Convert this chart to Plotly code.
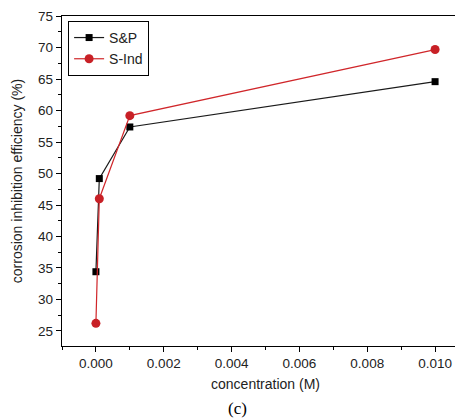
import plotly.graph_objects as go

concentration = [0.0, 0.0001, 0.001, 0.01]
sp_efficiency = [34.4, 49.2, 57.4, 64.6]
sind_efficiency = [26.2, 46.0, 59.2, 69.7]
x_ticks = [0.0, 0.002, 0.004, 0.006, 0.008, 0.010]
x_tick_labels = ['0.000', '0.002', '0.004', '0.006', '0.008', '0.010']
y_ticks = [25, 30, 35, 40, 45, 50, 55, 60, 65, 70, 75]

font = 'Liberation Sans, Arial, sans-serif'

fig = go.Figure()
fig.add_trace(go.Scatter(
    x=concentration, y=sp_efficiency, name='S&P', mode='lines+markers',
    line=dict(color='#1a1a1a', width=1.2),
    marker=dict(symbol='square', size=7, color='black'),
))
fig.add_trace(go.Scatter(
    x=concentration, y=sind_efficiency, name='S-Ind', mode='lines+markers',
    line=dict(color='#d0262a', width=1.2),
    marker=dict(symbol='circle', size=9, color='#c82026'),
))

axis_common = dict(
    showline=True, linecolor='black', linewidth=1.3, mirror=True,
    ticks='outside', ticklen=5, tickwidth=1.2, tickcolor='black',
    showgrid=False, zeroline=False, automargin=False,
    ticklabeloverflow='allow',
    tickfont=dict(family=font, size=13.5, color='#222'),
)

fig.update_layout(
    width=463, height=418,
    margin=dict(l=54, r=2, t=8, b=80),
    plot_bgcolor='white', paper_bgcolor='white',
    font=dict(family=font, color='#222'),
    xaxis=dict(
        range=[-0.001, 0.011], tickvals=x_ticks, ticktext=x_tick_labels,
        minor=dict(dtick=0.001, ticks='outside', ticklen=3, tickcolor='black'),
        title=dict(text='concentration (M)', font=dict(size=14), standoff=8),
        **axis_common,
    ),
    yaxis=dict(
        range=[22.6, 75.03], tickvals=y_ticks,
        minor=dict(dtick=2.5, ticks='outside', ticklen=3, tickcolor='black'),
        title=dict(text='corrosion inhibition efficiency (%)', font=dict(size=14), standoff=12),
        **axis_common,
    ),
    legend=dict(
        x=0.015, y=0.985, xanchor='left', yanchor='top',
        bordercolor='black', borderwidth=1, bgcolor='white',
        font=dict(family=font, size=14), tracegroupgap=0,
    ),
    showlegend=True,
)

fig.add_annotation(
    text='(c)', xref='paper', yref='paper', x=0.43, y=-0.19, yanchor='middle',
    showarrow=False, font=dict(family='Liberation Serif, Times New Roman, serif', size=17, color='black'),
)

fig.write_html('out.html')
